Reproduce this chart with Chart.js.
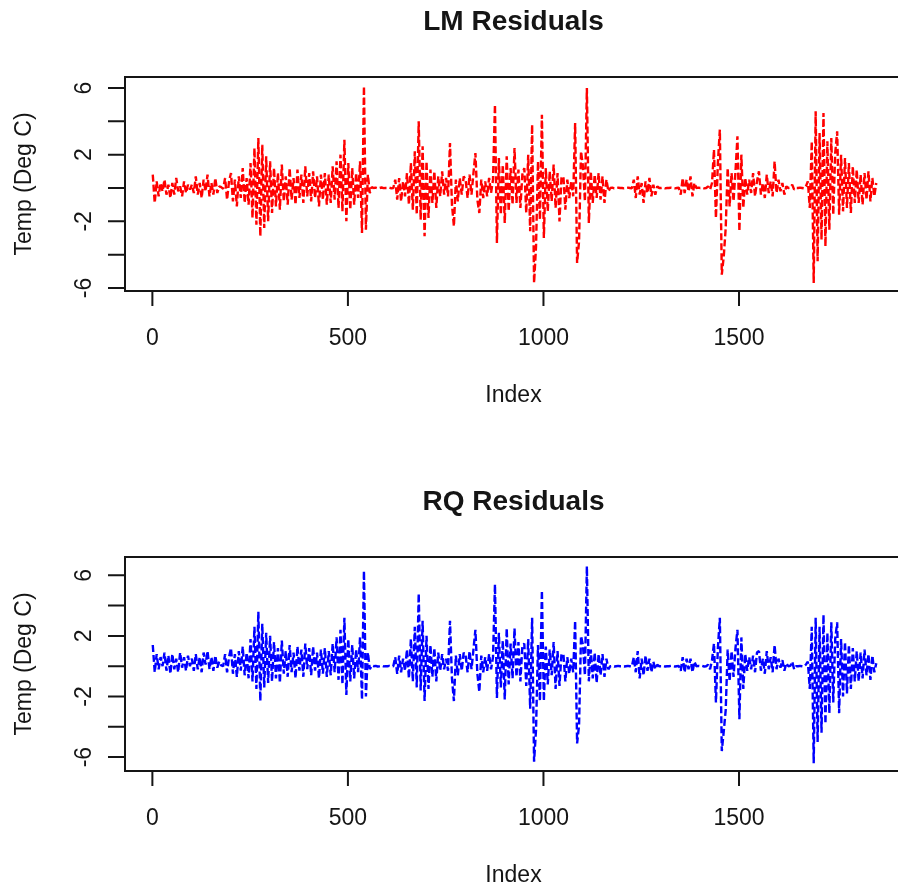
<!DOCTYPE html>
<html>
<head>
<meta charset="utf-8">
<title>Residuals</title>
<script src="https://cdn.jsdelivr.net/npm/chart.js@4/dist/chart.umd.min.js"></script>
<style>
  html, body { margin: 0; padding: 0; background: #fff; overflow: hidden; }
  .panel { position: absolute; left: 0; width: 910px; height: 480px; }
  #top { top: 0; }
  #bottom { top: 480px; }
</style>
</head>
<body>
<div class="panel" id="top"><canvas id="lm-chart" width="910" height="480"></canvas></div>
<div class="panel" id="bottom"><canvas id="rq-chart" width="910" height="480"></canvas></div>
<script>
// residuals read every 5th observation, starting at index 1
const indexStep = 5;

// one row per 50 observations
const lmResiduals = [
  0.8, -0.9, 0.4, -0.5, 0.3, -0.2, 0.5, -0.4, 0.2, -0.6,
  0.3, -0.4, 0.6, -0.2, 0.1, -0.5, 0.4, -0.3, 0.2, -0.1,
  0.2, -0.3, 0.7, -0.4, 0.3, -0.6, 0.5, -0.2, 0.8, -0.5,
  0.3, -0.4, 0.6, -0.3, 0.1, 0.05, -0.05, 0.6, -0.7, 0.4,
  0.9, -0.8, 0.5, -1.1, 0.7, -0.6, 1.2, -0.9, 0.6, -1.0,
  1.5, -1.8, 2.4, -2.2, 3.0, -2.9, 2.6, -2.4, 1.9, -2.0,
  1.6, -1.5, 1.2, -1.1, 0.9, -1.3, 1.4, -0.8, 0.7, -1.0,
  1.2, -0.7, 0.6, -1.0, 1.1, -0.6, 0.8, -0.9, 1.3, -0.5,
  0.9, -0.8, 1.0, -0.6, 0.7, -1.1, 0.8, -0.7, 0.9, -1.0,
  0.8, -0.9, 1.3, -0.7, 1.6, -1.2, 2.0, -1.4, 2.9, -2.0,
  1.5, -1.3, 1.2, -1.0, 0.9, -0.6, 1.6, -2.7, 6.1, -2.5,
  0.8, -0.3, 0.05, 0.0, 0.02, -0.02, 0.0, 0.03, -0.01, 0.0,
  0.0, 0.02, -0.02, 0.0, 0.5, -0.7, 0.6, -0.8, 0.4, -0.5,
  0.9, -1.0, 1.5, -1.3, 2.2, -1.6, 4.0, -1.9, 2.5, -2.9,
  1.6, -1.8, 1.1, -0.9, 1.0, -1.2, 0.7, -0.5, 1.0, -0.4,
  0.6, -0.5, 2.7, -1.0, -2.3, 0.5, -0.8, 0.6, -0.4, 0.7,
  0.5, -0.6, 0.8, -0.4, 0.9, 2.1, -0.7, -1.5, 0.5, -0.6,
  0.4, -0.5, 0.6, -0.3, 0.5, 5.0, -3.3, 1.8, -1.6, 1.4,
  -2.1, 1.9, -1.4, 1.2, -1.0, 2.4, -0.9, 1.1, -1.2, 0.8,
  1.2, -1.5, 2.0, -2.6, 3.8, -5.7, -3.5, 1.6, -1.9, 4.4,
  -3.0, 1.2, -1.4, 1.0, -0.8, 1.4, -1.2, 0.9, -2.0, 0.6,
  0.7, -1.3, 0.5, -0.6, 0.4, -0.5, 3.9, -4.5, -3.2, 2.2,
  1.3, -0.8, 6.0, -2.1, 1.0, -0.9, 0.8, -0.6, 0.9, -0.7,
  0.7, -0.9, 0.5, -0.2, 0.0, 0.02, -0.02, 0.0, 0.02, 0.0,
  0.0, -0.02, 0.0, 0.02, 0.0, -0.02, 0.5, -0.6, 0.7, -0.4,
  0.3, -0.9, 0.4, -0.3, 0.6, -0.5, 0.2, -0.4, 0.1, 0.0,
  0.0, 0.02, -0.02, 0.0, 0.0, 0.02, 0.0, -0.02, 0.0, 0.02,
  -0.4, 0.6, -0.3, 0.5, -0.2, 0.7, -0.5, 0.3, 0.0, 0.02,
  0.0, 0.02, -0.02, 0.0, 0.1, -0.1, 0.3, 2.3, -1.8, 1.5,
  3.5, -5.2, -4.1, -2.4, 1.2, -1.1, 0.9, -0.8, 1.0, 3.1,
  -2.6, 2.0, -1.2, 0.6, -0.4, 0.5, -0.3, 0.9, -0.5, 0.4,
  1.0, -0.4, 0.3, -0.6, 0.8, -0.3, 0.4, -0.5, 1.6, -0.3,
  0.5, -0.2, 0.3, -0.4, 0.1, 0.0, 0.02, 0.2, -0.1, 0.0,
  0.0, 0.02, 0.0, -0.02, 0.1, 0.4, -1.2, 2.8, -5.7, 4.6,
  -4.4, 3.3, -3.1, 4.5, -3.5, 2.8, -2.5, 3.0, -1.6, 2.1,
  3.4, -1.6, 2.0, -1.4, 1.8, -1.2, 1.5, -1.5, 1.3, -0.9,
  1.1, -0.9, 0.8, -1.0, 0.9, -0.7, 1.0, -0.8, 0.6, -0.5,
  0.3
];

const rqResiduals = [
  1.4, -0.4, 0.8, -0.2, 0.6, 0.0, 0.9, -0.3, 0.7, -0.5,
  0.8, -0.2, 0.5, -0.4, 0.9, -0.1, 0.6, -0.3, 0.7, 0.0,
  0.5, -0.3, 0.8, -0.2, 0.6, -0.4, 0.9, 0.1, 1.0, -0.2,
  0.6, -0.3, 0.7, -0.1, 0.3, 0.05, 0.0, 0.8, -0.4, 0.6,
  1.2, -0.5, 0.8, -0.7, 1.0, -0.3, 1.3, -0.6, 0.9, -0.8,
  1.8, -1.0, 2.6, -1.5, 3.6, -2.3, 2.8, -1.4, 2.2, -1.1,
  2.0, -1.0, 1.6, -0.8, 1.2, -1.1, 1.7, -0.5, 1.0, -0.7,
  1.4, -0.4, 0.9, -0.8, 1.3, -0.3, 1.1, -0.7, 1.5, -0.2,
  1.2, -0.6, 1.3, -0.3, 0.9, -0.8, 1.1, -0.5, 1.2, -0.7,
  1.0, -0.6, 1.5, -0.4, 1.9, -0.9, 2.4, -1.2, 3.2, -1.9,
  1.8, -1.0, 1.4, -0.8, 1.1, -0.4, 1.9, -2.2, 6.3, -2.0,
  0.9, -0.2, 0.05, 0.0, 0.02, -0.02, 0.0, 0.03, -0.01, 0.0,
  0.0, 0.02, -0.02, 0.0, 0.6, -0.5, 0.7, -0.4, 0.5, -0.3,
  1.1, -0.8, 1.8, -1.0, 2.6, -1.4, 4.8, -1.6, 3.0, -2.3,
  2.0, -1.5, 1.4, -0.7, 1.2, -1.0, 0.9, -0.3, 0.8, -0.2,
  0.5, -0.3, 3.0, -0.8, -2.3, 0.7, -0.6, 0.8, -0.3, 0.9,
  0.7, -0.4, 1.0, -0.2, 1.1, 2.4, -0.5, -1.7, 0.7, -0.4,
  0.6, -0.3, 0.8, -0.2, 0.6, 5.4, -2.1, 2.2, -1.4, 1.7,
  -2.2, 2.5, -1.2, 1.5, -0.8, 2.5, -0.7, 1.6, -1.0, 1.3,
  1.5, -1.3, 1.8, -2.8, 3.2, -6.3, -4.2, 1.4, -2.3, 5.0,
  -2.3, 1.3, -1.2, 1.1, -0.6, 1.6, -1.5, 1.0, -1.3, 0.8,
  0.8, -1.0, 0.6, -0.5, 0.5, -0.4, 3.0, -5.1, -3.9, 2.0,
  1.4, -0.6, 6.6, -1.0, 1.1, -0.8, 0.9, -1.1, 0.8, -0.6,
  0.8, -0.7, 0.5, -0.2, 0.0, 0.02, -0.02, 0.0, 0.02, 0.0,
  0.0, -0.02, 0.0, 0.02, 0.0, -0.02, 0.6, -0.4, 1.0, -0.8,
  0.5, -0.6, 0.7, -0.3, 0.5, -0.4, 0.3, -0.2, 0.1, 0.0,
  0.0, 0.02, -0.02, 0.0, 0.0, 0.02, 0.0, -0.02, 0.0, 0.02,
  -0.3, 0.6, -0.4, 0.5, -0.2, 0.5, -0.4, 0.3, 0.0, 0.02,
  0.0, 0.02, -0.02, 0.0, 0.1, -0.2, 0.4, 1.5, -2.4, 1.2,
  3.2, -5.6, -4.3, -2.9, 1.1, -1.0, 1.0, -0.7, 1.2, 2.4,
  -3.5, 1.9, -1.5, 0.8, -0.3, 0.6, -0.2, 0.7, -0.4, 0.9,
  1.0, -0.3, 0.5, -0.5, 1.0, -0.2, 0.6, -0.4, 1.4, -0.2,
  0.5, -0.1, 0.4, -0.3, 0.2, 0.0, 0.02, 0.3, -0.2, 0.0,
  0.0, 0.02, 0.0, -0.02, 0.1, 0.3, -1.5, 2.6, -6.4, 3.2,
  -5.0, 2.6, -4.4, 3.4, -3.8, 2.2, -3.1, 2.9, -2.4, 1.8,
  2.9, -3.1, 1.8, -2.0, 1.6, -1.8, 1.4, -1.5, 1.2, -1.0,
  1.0, -1.0, 0.9, -0.8, 1.1, -0.6, 0.8, -0.9, 0.7, -0.4,
  0.2
];

const xTicks = [0, 500, 1000, 1500];
const yTicks = [-6, -4, -2, 0, 2, 4, 6];
const yTickLabels = [-6, -2, 2, 6];

const FONT = "'Liberation Sans', Arial, sans-serif";
const INK = "#151515";

function toPoints(values) {
  return values.map((v, i) => ({ x: 1 + i * indexStep, y: v }));
}

// base-graphics style frame: box, outward ticks, rotated y labels
const baseAxes = {
  id: "baseAxes",
  afterDraw(chart, args, opts) {
    const ctx = chart.ctx;
    const area = chart.chartArea;
    const xs = chart.scales.x;
    const ys = chart.scales.y;
    ctx.save();
    ctx.strokeStyle = INK;
    ctx.fillStyle = INK;
    ctx.lineWidth = 2;
    ctx.strokeRect(area.left, area.top, area.right - area.left, area.bottom - area.top);

    // x axis
    ctx.beginPath();
    xTicks.forEach((t) => {
      const px = xs.getPixelForValue(t);
      ctx.moveTo(px, area.bottom);
      ctx.lineTo(px, area.bottom + 15);
    });
    ctx.stroke();
    ctx.font = "23px " + FONT;
    ctx.textAlign = "center";
    ctx.textBaseline = "alphabetic";
    xTicks.forEach((t) => {
      ctx.fillText(String(t), xs.getPixelForValue(t), 345);
    });
    ctx.fillText("Index", (area.left + area.right) / 2 - 2, 402);

    // y axis
    ctx.beginPath();
    yTicks.forEach((t) => {
      const py = ys.getPixelForValue(t);
      ctx.moveTo(area.left, py);
      ctx.lineTo(area.left - 17, py);
    });
    ctx.stroke();
    yTickLabels.forEach((t) => {
      ctx.save();
      ctx.translate(91, ys.getPixelForValue(t));
      ctx.rotate(-Math.PI / 2);
      ctx.textAlign = "center";
      ctx.fillText(String(t), 0, 0);
      ctx.restore();
    });
    ctx.save();
    ctx.translate(31, (area.top + area.bottom) / 2);
    ctx.rotate(-Math.PI / 2);
    ctx.textAlign = "center";
    ctx.fillText("Temp (Deg C)", 0, 0);
    ctx.restore();

    // title
    ctx.font = "bold 28px " + FONT;
    ctx.textAlign = "center";
    ctx.fillText(opts.title, (area.left + area.right) / 2 - 2, 30);
    ctx.restore();
  }
};

function residualChart(canvasId, title, values, color, yMin, yMax) {
  return new Chart(document.getElementById(canvasId).getContext("2d"), {
    type: "line",
    data: {
      datasets: [{
        data: toPoints(values),
        borderColor: color,
        borderWidth: 2.4,
        borderDash: [7, 3],
        borderJoinStyle: "bevel",
        borderCapStyle: "butt",
        pointRadius: 0,
        tension: 0,
        fill: false
      }]
    },
    options: {
      responsive: false,
      animation: false,
      devicePixelRatio: 1,
      layout: { padding: { left: 125, top: 77, right: 4, bottom: 189 } },
      plugins: {
        legend: { display: false },
        tooltip: { enabled: false },
        baseAxes: { title: title }
      },
      scales: {
        x: { type: "linear", min: -70, max: 1927, display: false },
        y: { type: "linear", min: yMin, max: yMax, display: false }
      }
    },
    plugins: [baseAxes]
  });
}

residualChart("lm-chart", "LM Residuals", lmResiduals, "#ff0000", -6.18, 6.66);
residualChart("rq-chart", "RQ Residuals", rqResiduals, "#0000ff", -6.92, 7.21);
</script>
</body>
</html>
